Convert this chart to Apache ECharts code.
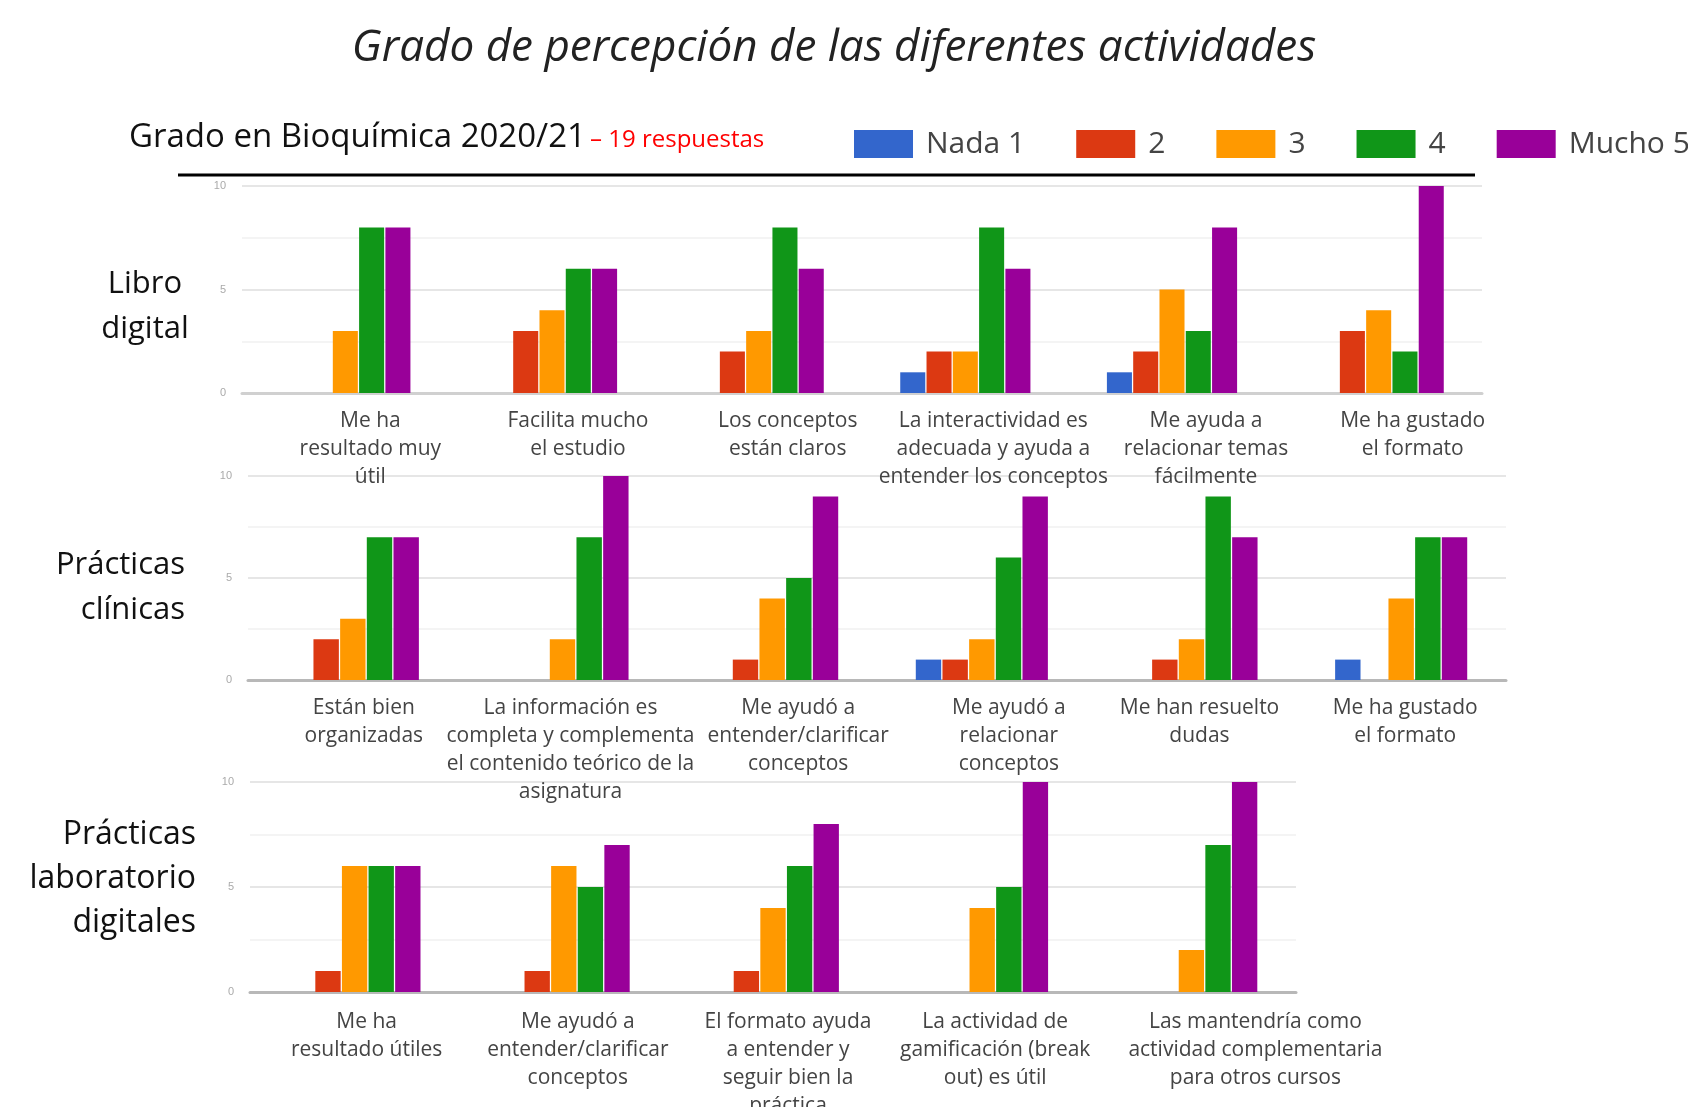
<!DOCTYPE html>
<html lang="es">
<head>
    <meta charset="UTF-8">
    <title>Grado de percepción de las diferentes actividades</title>
    <script src="https://cdn.jsdelivr.net/npm/echarts@6/dist/echarts.min.js"></script>
    <style>
        html, body { margin: 0; padding: 0; background: #fff; }
        #main { width: 1688px; height: 1107px; }
    </style>
</head>
<body>
    <div id="main"></div>

    <script type="text/javascript">
        // niveles de la escala (leyenda) y sus colores
        const levels = ['Nada 1', '2', '3', '4', 'Mucho 5'];
        const levelColors = ['#3366cc', '#dc3912', '#ff9900', '#109618', '#990099'];

        // Libro digital
        const libroCats = [
            'Me ha\nresultado muy\nútil',
            'Facilita mucho\nel estudio',
            'Los conceptos\nestán claros',
            'La interactividad es\nadecuada y ayuda a\nentender los conceptos',
            'Me ayuda a\nrelacionar temas\nfácilmente',
            'Me ha gustado\nel formato'
        ];
        const libroNada1 = [0, 0, 0, 1, 1, 0];
        const libro2 = [0, 3, 2, 2, 2, 3];
        const libro3 = [3, 4, 3, 2, 5, 4];
        const libro4 = [8, 6, 8, 8, 3, 2];
        const libroMucho5 = [8, 6, 6, 6, 8, 10];

        // Prácticas clínicas
        const clinicasCats = [
            'Están bien\norganizadas',
            'La información es\ncompleta y complementa\nel contenido teórico de la\nasignatura',
            'Me ayudó a\nentender/clarificar\nconceptos',
            'Me ayudó a\nrelacionar\nconceptos',
            'Me han resuelto\ndudas',
            'Me ha gustado\nel formato'
        ];
        const clinicasNada1 = [0, 0, 0, 1, 0, 1];
        const clinicas2 = [2, 0, 1, 1, 1, 0];
        const clinicas3 = [3, 2, 4, 2, 2, 4];
        const clinicas4 = [7, 7, 5, 6, 9, 7];
        const clinicasMucho5 = [7, 10, 9, 9, 7, 7];

        // Prácticas laboratorio digitales
        const labCats = [
            'Me ha\nresultado útiles',
            'Me ayudó a\nentender/clarificar\nconceptos',
            'El formato ayuda\na entender y\nseguir bien la\npráctica',
            'La actividad de\ngamificación (break\nout) es útil',
            'Las mantendría como\nactividad complementaria\npara otros cursos'
        ];
        const labNada1 = [0, 0, 0, 0, 0];
        const lab2 = [1, 1, 1, 0, 0];
        const lab3 = [6, 6, 4, 4, 2];
        const lab4 = [6, 5, 6, 5, 7];
        const labMucho5 = [6, 7, 8, 10, 10];

        const yTicks = [0, 5, 10];

        const panels = [
            { cats: libroCats, values: [libroNada1, libro2, libro3, libro4, libroMucho5] },
            { cats: clinicasCats, values: [clinicasNada1, clinicas2, clinicas3, clinicas4, clinicasMucho5] },
            { cats: labCats, values: [labNada1, lab2, lab3, lab4, labMucho5] }
        ];

        // desplazamiento horizontal de cada etiqueta (px) respecto al centro de la categoría
        const labelShift = [
            [25, 26, 29, 28, 34, 34],
            [11, 8, 26, 27, 8, 4],
            [12, 14, 15, 13, 64]
        ];

        const fontCond = '"Open Sans", "Liberation Sans", sans-serif';

        var myChart = echarts.init(document.getElementById('main'));

        const grids = [
            { left: 242, right: 206, top: 186, height: 207, outerBoundsMode: 'none' },
            { left: 248, right: 182, top: 476, height: 204, outerBoundsMode: 'none' },
            { left: 250, right: 392, top: 782, height: 210, outerBoundsMode: 'none' }
        ];

        const xAxes = panels.map(function(p, i) {
            return {
                type: 'category',
                gridIndex: i,
                data: p.cats.map(function(c, j) {
                    return { value: c, textStyle: { padding: [0, 0, 0, 2 * labelShift[i][j]] } };
                }),
                axisTick: { show: false },
                axisLine: { lineStyle: { color: i === 0 ? '#d0d0d0' : '#b8b8b8', width: 3 } },
                axisLabel: {
                    interval: 0,
                    margin: i === 2 ? 16 : 14,
                    color: '#444',
                    fontSize: 21,
                    lineHeight: 28,
                    fontFamily: fontCond
                }
            };
        });

        const yAxes = panels.map(function(p, i) {
            return {
                type: 'value',
                gridIndex: i,
                min: 0,
                max: 10,
                interval: 2.5,
                axisLine: { show: false },
                axisTick: { show: false },
                axisLabel: {
                    color: '#aaa',
                    fontSize: 11,
                    margin: 16,
                    formatter: function(v) {
                        return yTicks.indexOf(v) >= 0 ? String(v) : '';
                    }
                },
                splitLine: {
                    lineStyle: { color: ['#e6e6e6', '#f4f4f4'], width: 2 }
                }
            };
        });

        const series = [];
        panels.forEach(function(p, i) {
            levels.forEach(function(name, k) {
                series.push({
                    type: 'bar',
                    name: name,
                    xAxisIndex: i,
                    yAxisIndex: i,
                    data: p.values[k],
                    barGap: '5%',
                    barCategoryGap: '37%',
                    itemStyle: { color: levelColors[k] },
                    emphasis: { disabled: true }
                });
            });
        });

        option = {
            animation: false,
            color: levelColors,
            legend: {
                data: levels,
                left: 849,
                top: 124,
                width: 1200,
                itemWidth: 59,
                itemHeight: 28,
                itemGap: 51,
                icon: 'rect',
                textStyle: {
                    fontSize: 30,
                    color: '#444',
                    fontFamily: fontCond,
                    padding: [0, 0, 0, 8]
                }
            },
            grid: grids,
            xAxis: xAxes,
            yAxis: yAxes,
            series: series,
            graphic: [
                {
                    type: 'text', x: 834, y: 48,
                    style: {
                        text: 'Grado de percepción de las diferentes actividades',
                        fontSize: 44, fontStyle: 'italic', fontFamily: fontCond,
                        fill: '#222', align: 'center', verticalAlign: 'middle'
                    }
                },
                {
                    type: 'text', x: 129, y: 138,
                    style: {
                        text: 'Grado en Bioquímica 2020/21',
                        fontSize: 33, fontFamily: fontCond,
                        fill: '#111', align: 'left', verticalAlign: 'middle'
                    }
                },
                {
                    type: 'text', x: 590, y: 140,
                    style: {
                        text: '– 19 respuestas',
                        fontSize: 24, fontFamily: fontCond,
                        fill: '#ff0000', align: 'left', verticalAlign: 'middle'
                    }
                },
                {
                    type: 'line',
                    shape: { x1: 178, y1: 175, x2: 1475, y2: 175 },
                    style: { stroke: '#000', lineWidth: 3 }
                },
                {
                    type: 'text', x: 145, y: 307,
                    style: {
                        text: 'Libro\ndigital',
                        fontSize: 31, lineHeight: 45, fontFamily: fontCond,
                        fill: '#111', align: 'center', verticalAlign: 'middle'
                    }
                },
                {
                    type: 'text', x: 185, y: 588,
                    style: {
                        text: 'Prácticas\nclínicas',
                        fontSize: 31, lineHeight: 45, fontFamily: fontCond,
                        fill: '#111', align: 'right', verticalAlign: 'middle'
                    }
                },
                {
                    type: 'text', x: 196, y: 879,
                    style: {
                        text: 'Prácticas\nlaboratorio\ndigitales',
                        fontSize: 32, lineHeight: 44, fontFamily: fontCond,
                        fill: '#111', align: 'right', verticalAlign: 'middle'
                    }
                }
            ]
        };

        myChart.setOption(option);
        window.onresize = myChart.resize;
    </script>
</body>
</html>
